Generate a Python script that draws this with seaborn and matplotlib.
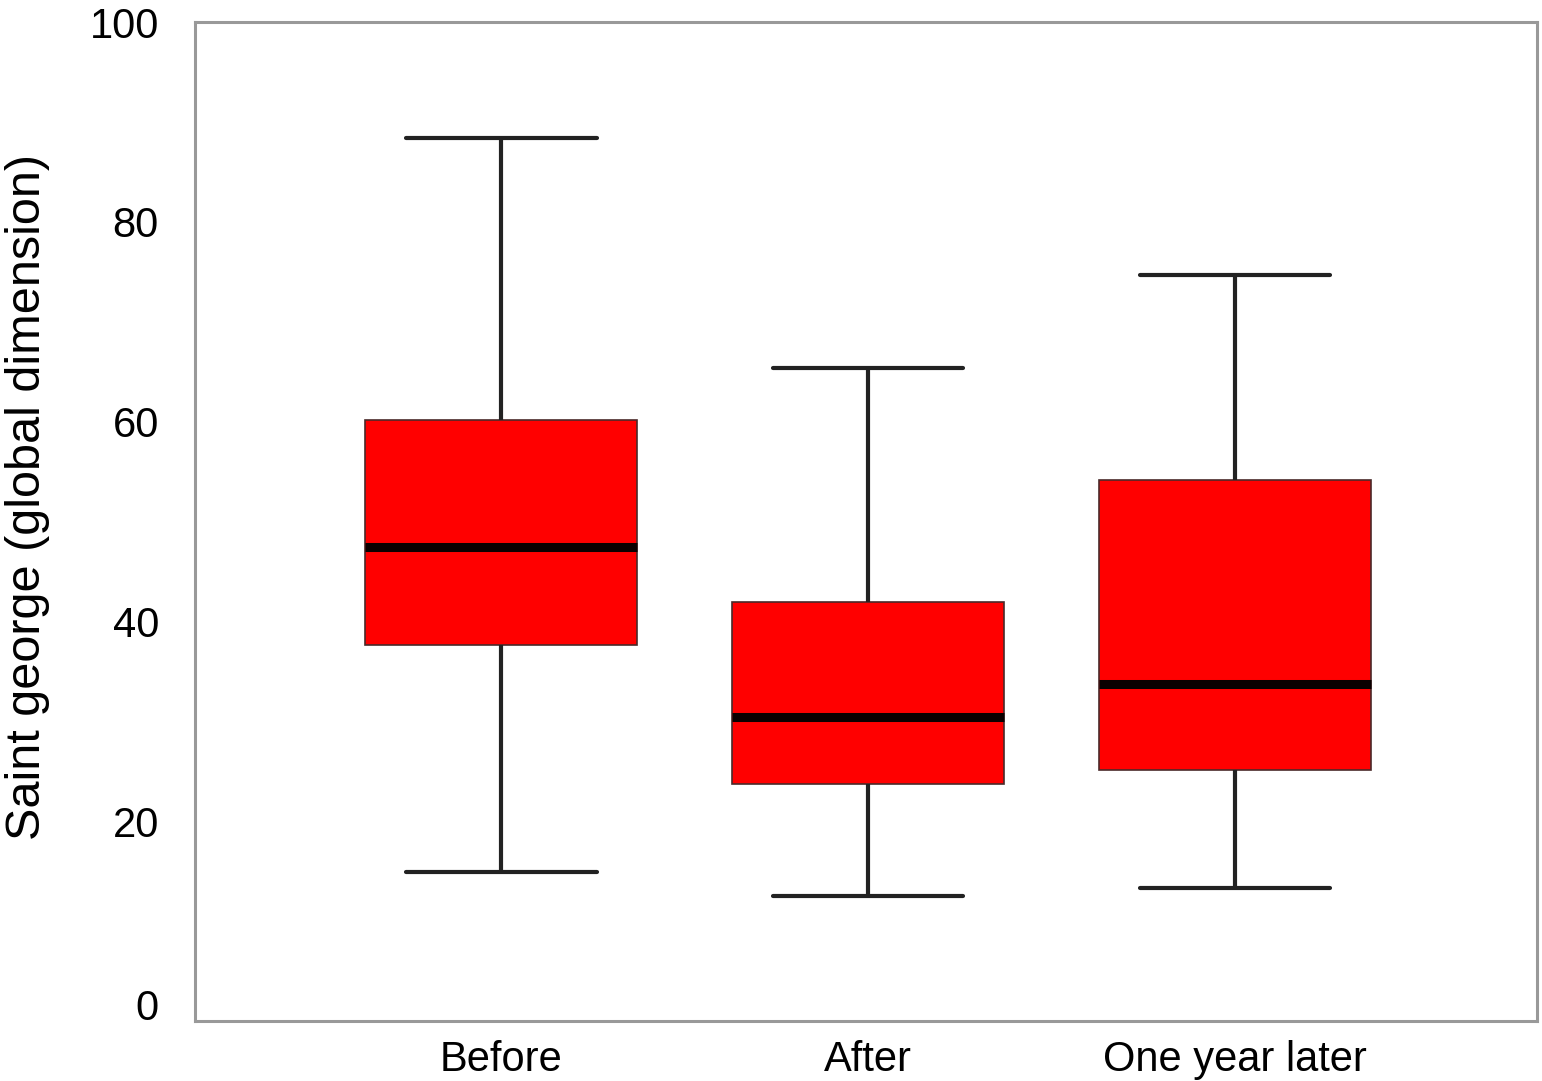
import pandas as pd
import numpy as np
import matplotlib
matplotlib.use("Agg")
import matplotlib.pyplot as plt
import matplotlib.transforms as mtransforms
import seaborn as sns

sns.set_theme(style="white")
plt.rcParams['font.family'] = ['Liberation Sans', 'DejaVu Sans']

# five-number summaries
periods = ["Before", "After", "One year later"]
whisker_low = [14.9, 12.5, 13.3]
q1 = [37.6, 23.7, 25.1]
medians = [47.5, 30.4, 33.7]
q3 = [60.2, 41.9, 54.2]
whisker_high = [88.4, 65.4, 74.7]

y_ticks = [0, 20, 40, 60, 80, 100]
y_label = "Saint george (global dimension)"

# 5 points per group -> quartiles land exactly on the values above
rows = []
for i, p in enumerate(periods):
    for v in (whisker_low[i], q1[i], medians[i], q3[i], whisker_high[i]):
        rows.append({"period": p, "score": v})
df = pd.DataFrame(rows)

fig = plt.figure(figsize=(15.42, 10.81), dpi=100)
ax = fig.add_axes([0.1265, 0.0555, 0.8703, 0.9241])

sns.boxplot(data=df, x="period", y="score", order=periods, ax=ax,
            color="#ff0000", saturation=1, width=0.74, whis=(0, 100),
            linecolor="#222222", linewidth=3, showfliers=False,
            boxprops=dict(edgecolor="#4a2a2a", linewidth=1.2),
            medianprops=dict(color="#0a0000", linewidth=6.5),
            capwidths=0.52)

ax.set_xlim(-0.834, 2.823)
ax.set_ylim(0, 100)
ax.set_yticks(y_ticks)
ax.set_xlabel("")
ax.set_ylabel(y_label, fontsize=35, color="black")
ax.yaxis.set_label_coords(-0.108, 0.525)

ax.tick_params(axis="both", length=0, labelsize=30, colors="black")
ax.tick_params(axis="y", pad=26)
ax.tick_params(axis="x", pad=14)

for s in ax.spines.values():
    s.set_visible(True)
    s.set_color("#999999")
    s.set_linewidth(2.2)
ax.grid(False)

# the "0" label sits a little above the axis in the original
lab0 = ax.get_yticklabels()[0]
lab0.set_transform(lab0.get_transform() +
                   mtransforms.ScaledTranslation(0, 17 / 100, fig.dpi_scale_trans))

plt.savefig("out.png", dpi=100)
